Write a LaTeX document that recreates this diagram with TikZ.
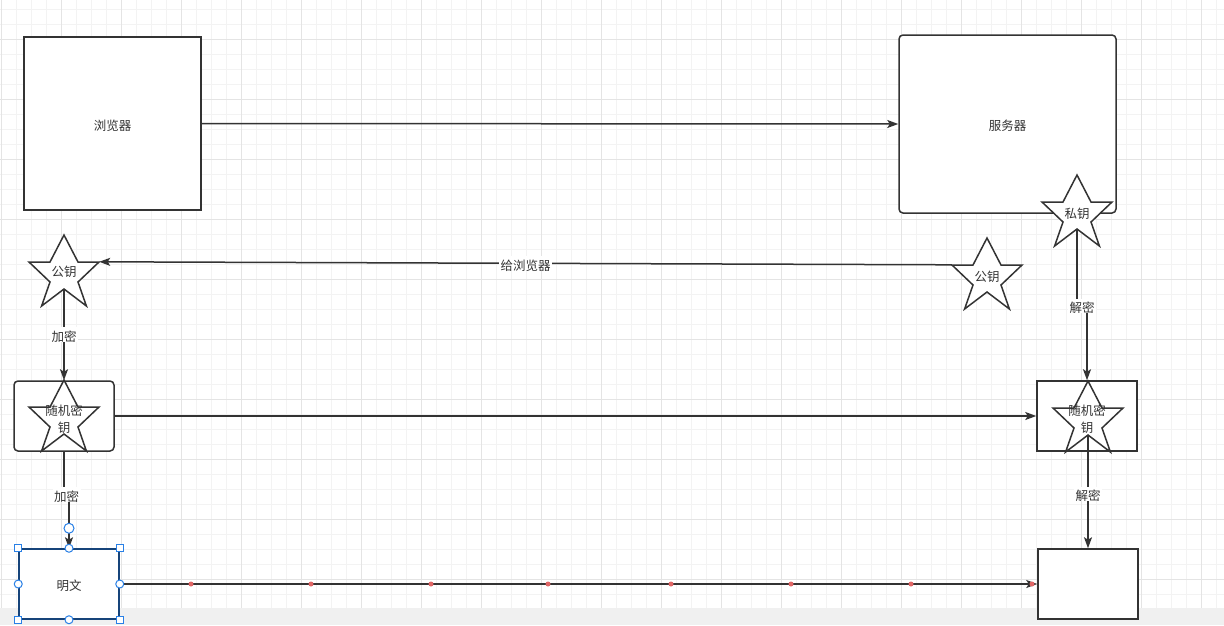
\documentclass[tikz,border=0pt]{standalone}
\usepackage{fontspec}
\setmainfont{Noto Sans CJK SC}
\usetikzlibrary{arrows.meta,calc}
\definecolor{gridminor}{RGB}{243,243,243}
\definecolor{gridmajor}{RGB}{228,228,228}
\definecolor{ink}{RGB}{51,51,51}
\definecolor{band}{RGB}{240,240,240}
\definecolor{selblue}{RGB}{41,128,230}
\definecolor{selborder}{RGB}{22,68,122}
\definecolor{dotred}{RGB}{224,102,102}
\newcommand{\txtfont}{\fontsize{12.5}{17}\selectfont}
\newcommand{\dn}[2][2pt]{\raisebox{-#1}[\height][\depth]{#2}}
\tikzset{
  box/.style={draw=ink, line width=1.5pt, fill=white, inner sep=0pt, font=\txtfont, text=ink},
  keystar/.style={minimum width=70pt, minimum height=71pt, inner sep=0pt, font=\txtfont, text=ink},
  starline/.style={draw=ink, line width=1.5pt, fill=white, line join=miter},
  arr/.style={draw=ink, line width=1.5pt, -{Stealth[length=11pt,width=8pt,inset=2.5pt]}},
  lbl/.style={fill=white, inner sep=1.5pt, font=\txtfont, text=ink},
  handlesq/.style={draw=selblue, fill=white, line width=1pt, minimum size=7pt, inner sep=0pt},
  handleci/.style={draw=selblue, fill=white, line width=1pt, circle, minimum size=8pt, inner sep=0pt},
}
\newcommand{\starpath}[3]{% x, y, style
  \draw[starline,#3,shift={(#1-35,#2-35.5)}] (35,0) -- (49,27) -- (70,27) -- (49,47) -- (57.4,71) -- (35,54) -- (12.6,71) -- (21,47) -- (0,27) -- (21,27) -- cycle;}
\begin{document}
\begin{tikzpicture}[x=1pt,y=-1pt]
\useasboundingbox (0,0) rectangle (1224,625);
% background and grid
\fill[white] (0,0) rectangle (1224,608);
\fill[band] (0,608) rectangle (1224,625);
\foreach \i in {0,...,81} \draw[gridminor, line width=1pt] ({1.7+15*\i},0) -- ({1.7+15*\i},608);
\foreach \i in {0,...,39} \draw[gridminor, line width=1pt] (0,{9.3+15*\i}) -- (1224,{9.3+15*\i});
\foreach \i in {0,...,20} \draw[gridmajor, line width=1pt] ({1.7+60*\i},0) -- ({1.7+60*\i},608);
\foreach \i in {0,...,9} \draw[gridmajor, line width=1pt] (0,{39.3+60*\i}) -- (1224,{39.3+60*\i});

% main boxes
\node[box, minimum width=177pt, minimum height=173pt] (browser) at (112.5,123.5) {\dn{浏览器}};
\node[box, rounded corners=4pt, minimum width=217pt, minimum height=178pt] (server) at (1007.5,124) {\dn{服务器}};

% random key boxes
\node[box, rounded corners=4pt, minimum width=100pt, minimum height=70pt, align=center] (randL) at (64,416) {\dn[3pt]{随机密}\\\dn[3pt]{钥}};
\node[box, minimum width=100pt, minimum height=70pt, align=center] (randR) at (1087,416) {\dn[3pt]{随机密}\\\dn[3pt]{钥}};
\starpath{64}{415.5}{fill=none}
\node[keystar] (starL) at (64,415.5) {};
\starpath{1088}{416.5}{fill=none}
\node[keystar] (starR) at (1088,416.5) {};

% plaintext boxes
\node[box, draw=selborder, minimum width=100pt, minimum height=70pt] (plainL) at (69,584) {\dn{明文}};
\node[box, minimum width=100pt, minimum height=70pt] (plainR) at (1088,584) {};

% key stars
\starpath{1077}{210.5}{}
\node[keystar] (privkey) at (1077,210.5) {\dn[3pt]{私钥}};
\starpath{987}{273.5}{}
\node[keystar] (pubR) at (987,273.5) {\dn[3pt]{公钥}};
\starpath{64}{270.5}{}
\node[keystar] (pubL) at (64,270.5) {\dn[1.5pt]{公钥}};

% connectors
\draw[arr] (browser.east) -- (server.west);
\draw[arr] ($(pubR.north west)+(0,27)$) -- node[lbl, pos=0.5] {\dn{给浏览器}} ($(pubL.north east)+(0,27)$);
\draw[arr] ($(privkey.center)+(0,18.5)$) -- ++(0,77) -- node[lbl] {\dn{解密}} ++(10,0) -- (randR.north);
\draw[arr] ($(pubL.center)+(0,18)$) -- node[lbl] {\dn{加密}} (randL.north);
\draw[arr] (randL.east) -- (randR.west);
\draw[arr] (randL.south) -- ++(0,43) -- node[lbl] {\dn{加密}} ++(5,0) -- (plainL.north);
\draw[arr] ($(starR.center)+(0,18.5)$) -- node[lbl, pos=0.52] {\dn{解密}} (plainR.north);
\draw[arr] (plainL.east) -- (plainR.west);

% waypoint dots
\foreach \x in {191,311,431,548,671,791,911,1032} \fill[dotred] (\x,584) circle (2.5pt);

% selection handles
\node[handleci, minimum size=10pt] (hroot) at ($(plainL.north)+(0,-20)$) {};
\foreach \a in {north west,north east,south west,south east} \node[handlesq] at (plainL.\a) {};
\foreach \a in {north,south,west,east} \node[handleci] at (plainL.\a) {};
\end{tikzpicture}
\end{document}
